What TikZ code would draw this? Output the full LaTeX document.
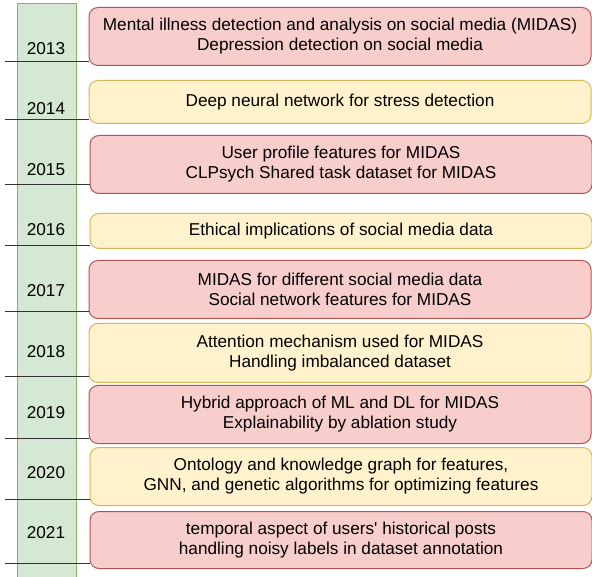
\documentclass[tikz,border=0pt]{standalone}
\usepackage{fontspec}
\setmainfont{Liberation Sans}
\definecolor{redfill}{HTML}{F8CECC}
\definecolor{redline}{HTML}{B85450}
\definecolor{yelfill}{HTML}{FFF2CC}
\definecolor{yelline}{HTML}{D6B656}
\definecolor{grnfill}{HTML}{D5E8D4}
\definecolor{grnline}{HTML}{82B366}
\definecolor{tick}{HTML}{333333}
\begin{document}
\begin{tikzpicture}[x=1pt,y=-1pt,
  evt/.style={draw, line width=1pt, rounded corners=9pt, anchor=north west,
    minimum width=502pt, inner sep=0pt, align=center,
    font=\fontsize{17.2}{20}\selectfont, text=black},
  redbox/.style={evt, fill=redfill, draw=redline},
  yelbox/.style={evt, fill=yelfill, draw=yelline},
  yearlbl/.style={font=\fontsize{17.2}{20}\selectfont, text=black},
  tickline/.style={draw=tick, line width=1pt}]
\useasboundingbox (0,0) rectangle (592,577);
\node[draw=grnline, fill=grnfill, line width=1pt, anchor=north west, minimum width=59pt, minimum height=580pt, inner sep=0pt] (col) at (17,3) {};

\node[redbox, minimum height=58pt] (b13) at (88.5,7) {Mental illness detection and analysis on social media (MIDAS)\\Depression detection on social media};
\node[yelbox, minimum height=43pt] (b14) at (88.5,80) {Deep neural network for stress detection};
\node[redbox, minimum height=58pt] (b15) at (89.5,135) {User profile features for MIDAS\\CLPsych Shared task dataset for MIDAS};
\node[yelbox, minimum height=35pt] (b16) at (89.5,213) {Ethical implications of social media data};
\node[redbox, minimum height=58pt] (b17) at (88.5,260) {MIDAS for different social media data\\Social network features for MIDAS};
\node[yelbox, minimum height=59pt] (b18) at (88.5,323) {Attention mechanism used for MIDAS\\Handling imbalanced dataset};
\node[redbox, minimum height=58pt] (b19) at (88.5,385) {Hybrid approach of ML and DL for MIDAS\\Explainability by ablation study};
\node[yelbox, minimum height=58pt] (b20) at (89.5,447) {Ontology and knowledge graph for features,\\GNN, and genetic algorithms for optimizing features};
\node[redbox, minimum height=57pt] (b21) at (89.5,511) {temporal aspect of users\textquotesingle\ historical posts\\handling noisy labels in dataset annotation};

\foreach \yr/\ly/\ty in {13/62/49,14/120/109,15/185/170,16/246/230,17/312/291,18/377/352,19/438/413,20/499/473,21/563/533}{
  \coordinate (t\yr) at (5,\ly);
  \node[yearlbl] (y\yr) at (46,\ty) {20\yr};
  \draw[tickline] (t\yr) -- (b\yr.west |- t\yr);
}
\end{tikzpicture}
\end{document}
